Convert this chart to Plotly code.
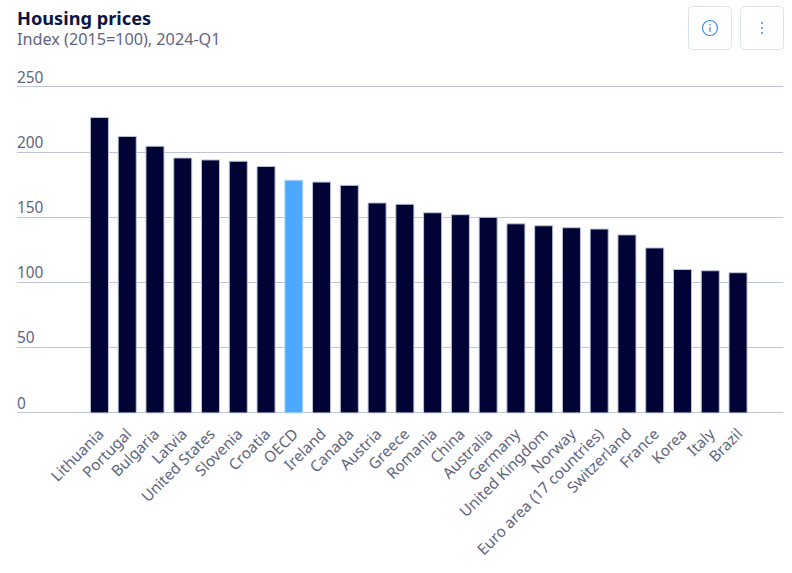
import plotly.graph_objects as go

W, H = 792, 573
countries = ["Lithuania", "Portugal", "Bulgaria", "Latvia", "United States", "Slovenia", "Croatia", "OECD",
             "Ireland", "Canada", "Austria", "Greece", "Romania", "China", "Australia", "Germany",
             "United Kingdom", "Norway", "Euro area (17 countries)", "Switzerland", "France", "Korea", "Italy", "Brazil"]
values = [226.5, 212, 204.5, 195.5, 194, 193, 189, 178.5, 177, 174.5, 161, 160, 153.5, 152, 150, 145, 143.5,
          142, 141, 136.5, 126.5, 110, 109, 107.5]
highlight = "OECD"
y_ticks = [0, 50, 100, 150, 200, 250]

FONT = "Noto Sans"
NAVY = "#000333"
BLUE = "#4DA8FF"
GRID = "#BCC6D8"
MUTED = "#5F6680"

colors = [BLUE if c == highlight else NAVY for c in countries]
edges = ["#B5E0FF" if c == highlight else GRID for c in countries]

fig = go.Figure(go.Bar(x=countries, y=values, marker=dict(color=colors, line=dict(color=edges, width=1)), width=0.65))

# Plot box runs a little past the value range on both ends so that the labels
# sitting above the 0 and 250 gridlines stay inside it.
L, R, B, T = 17, 783, 418, 54
ZERO_PX = 412.9
PX_PER_UNIT = 326 / 250
YMIN = -(B - ZERO_PX) / PX_PER_UNIT
YMAX = (ZERO_PX - T) / PX_PER_UNIT
fig.update_layout(
    width=W, height=H, autosize=False,
    margin=dict(l=L, r=W - R, t=T, b=H - B),
    paper_bgcolor="white", plot_bgcolor="white",
    showlegend=False,
    font=dict(family=FONT, size=15, color=MUTED),
)
fig.update_xaxes(
    type="category", categoryorder="array", categoryarray=countries,
    range=[-2.97, 24.62], tickangle=-45, ticks="", showgrid=False,
    showline=False, ticklabelstandoff=3, tickfont=dict(family=FONT, size=15.3, color=MUTED),
)
fig.update_yaxes(
    range=[YMIN, YMAX], tickvals=y_ticks, ticklabelposition="inside top",
    showgrid=True, gridcolor=GRID, gridwidth=1, zeroline=True, zerolinecolor=GRID, zerolinewidth=1,
    showline=False, ticks="", ticklabelstandoff=-3, ticklabelshift=1,
    tickfont=dict(family=FONT, size=15.4, color=MUTED),
)

def fx(x): return (x - L) / (R - L)
def fy(y): return (B - y) / (B - T)

def rrect(x0, y0, x1, y1, r=4):
    a, b, c, d = fx(x0), fx(x1), fy(y0), fy(y1)
    rx, ry = r / (R - L), r / (B - T)
    return (f"M{a+rx},{c} L{b-rx},{c} Q{b},{c} {b},{c-ry} L{b},{d+ry} Q{b},{d} {b-rx},{d} "
            f"L{a+rx},{d} Q{a},{d} {a},{d+ry} L{a},{c-ry} Q{a},{c} {a+rx},{c} Z")

shapes = []
for x0, x1 in [(688.5, 731.5), (740.5, 783.5)]:
    shapes.append(dict(type="path", path=rrect(x0, 6.5, x1, 49.5), xref="paper", yref="paper",
                       line=dict(color="#DDE3EA", width=1), fillcolor="white", layer="above"))
ICON = "#3D8BF2"
shapes.append(dict(type="circle", xref="paper", yref="paper", x0=fx(702.5), x1=fx(717.5), y0=fy(35.5), y1=fy(20.5),
                   line=dict(color=ICON, width=1.2), layer="above"))
shapes.append(dict(type="line", xref="paper", yref="paper", x0=fx(710), x1=fx(710), y0=fy(32), y1=fy(27),
                   line=dict(color=ICON, width=1.2), layer="above"))
shapes.append(dict(type="line", xref="paper", yref="paper", x0=fx(710), x1=fx(710), y0=fy(25.5), y1=fy(24),
                   line=dict(color=ICON, width=1.2), layer="above"))
for yy in (23, 28, 33):
    shapes.append(dict(type="line", xref="paper", yref="paper", x0=fx(762), x1=fx(762), y0=fy(yy - 1), y1=fy(yy + 1),
                       line=dict(color=ICON, width=1.5), layer="above"))
fig.update_layout(shapes=shapes)

fig.add_annotation(text="<b>Housing prices</b>", xref="paper", yref="paper", x=fx(17), y=fy(18), xanchor="left",
                   yanchor="middle", showarrow=False, xshift=-2, font=dict(family=FONT, size=18.2, color="#0B1546"))
fig.add_annotation(text="Index (2015=100), 2024-Q1", xref="paper", yref="paper", x=fx(17), y=fy(39), xanchor="left",
                   yanchor="middle", showarrow=False, xshift=-2, font=dict(family=FONT, size=16.2, color=MUTED))

fig.write_html("out.html", config={"displayModeBar": False},
               post_script="document.body.style.margin='0';document.documentElement.style.overflow='hidden';")
